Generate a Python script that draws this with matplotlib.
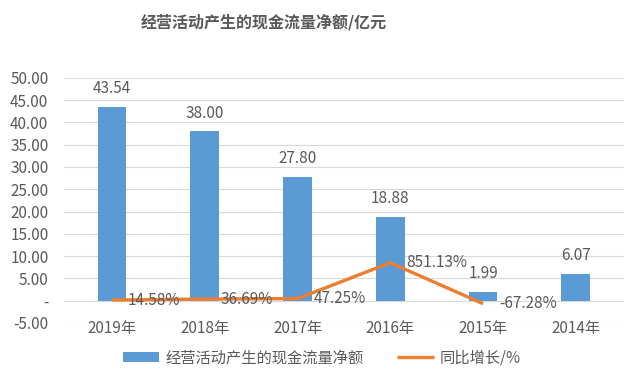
import matplotlib.pyplot as plt
import numpy as np

plt.rcParams["font.family"] = ["Noto Sans CJK SC", "DejaVu Sans"]

years = ["2019年", "2018年", "2017年", "2016年", "2015年", "2014年"]
cash_flow = [43.54, 38.00, 27.80, 18.88, 1.99, 6.07]
yoy_growth = [0.1458, 0.3669, 0.4725, 8.5113, -0.6728]
yoy_labels = ["14.58%", "36.69%", "47.25%", "851.13%", "-67.28%"]

BLUE = "#5B9BD5"
ORANGE = "#ED7D31"
GREY = "#595959"


def main():
    fig = plt.figure(figsize=(6.31, 3.76), dpi=100)
    ax = fig.add_axes([0.101, 0.141, 0.888, 0.652])

    x = np.arange(len(years))
    bars = ax.bar(x, cash_flow, width=0.31, color=BLUE, zorder=2,
                  label="经营活动产生的现金流量净额")
    line, = ax.plot(x[:len(yoy_growth)], yoy_growth, color=ORANGE, linewidth=2.4,
                    zorder=3, solid_capstyle="butt", label="同比增长/%")

    for rect, value in zip(bars, cash_flow):
        ax.annotate(f"{value:.2f}", (rect.get_x() + rect.get_width() / 2, value),
                    xytext=(0, 7), textcoords="offset points",
                    ha="center", va="bottom", fontsize=11, color=GREY)

    for xi, value, label in zip(x, yoy_growth, yoy_labels):
        ax.annotate(label, (xi, value), xytext=(11.5, 0), textcoords="offset points",
                    ha="left", va="center", fontsize=11, color=GREY, zorder=4)

    ax.set_xlim(-0.52, len(years) - 0.48)
    ax.set_ylim(-5, 50)
    yticks = np.arange(-5, 51, 5)
    ax.set_yticks(yticks)
    ax.set_yticklabels(["-" if t == 0 else f"{t:.2f}" for t in yticks])
    ax.set_xticks(x)
    ax.set_xticklabels(years)
    ax.tick_params(axis="both", length=0, labelsize=11, labelcolor=GREY)
    ax.tick_params(axis="y", pad=11)
    ax.spines["bottom"].set_position(("data", 0))
    ax.tick_params(axis="x", pad=14)
    for side in ["top", "right", "left", "bottom"]:
        ax.spines[side].set_visible(False)
    ax.grid(axis="y", color="#D9D9D9", linewidth=0.8, zorder=0)
    ax.set_axisbelow(True)

    fig.text(0.418, 0.942, "经营活动产生的现金流量净额/亿元", ha="center", va="center",
             fontsize=11.5, fontweight="bold", color=GREY)

    fig.legend(handles=[bars, line], loc="center", bbox_to_anchor=(0.51, 0.048),
               ncol=2, frameon=False, fontsize=11, labelcolor=GREY,
               handlelength=2.4, handleheight=0.6, columnspacing=2.2,
               handletextpad=0.4)

    fig.savefig("out.png", dpi=100)
    plt.close(fig)


if __name__ == "__main__":
    main()
